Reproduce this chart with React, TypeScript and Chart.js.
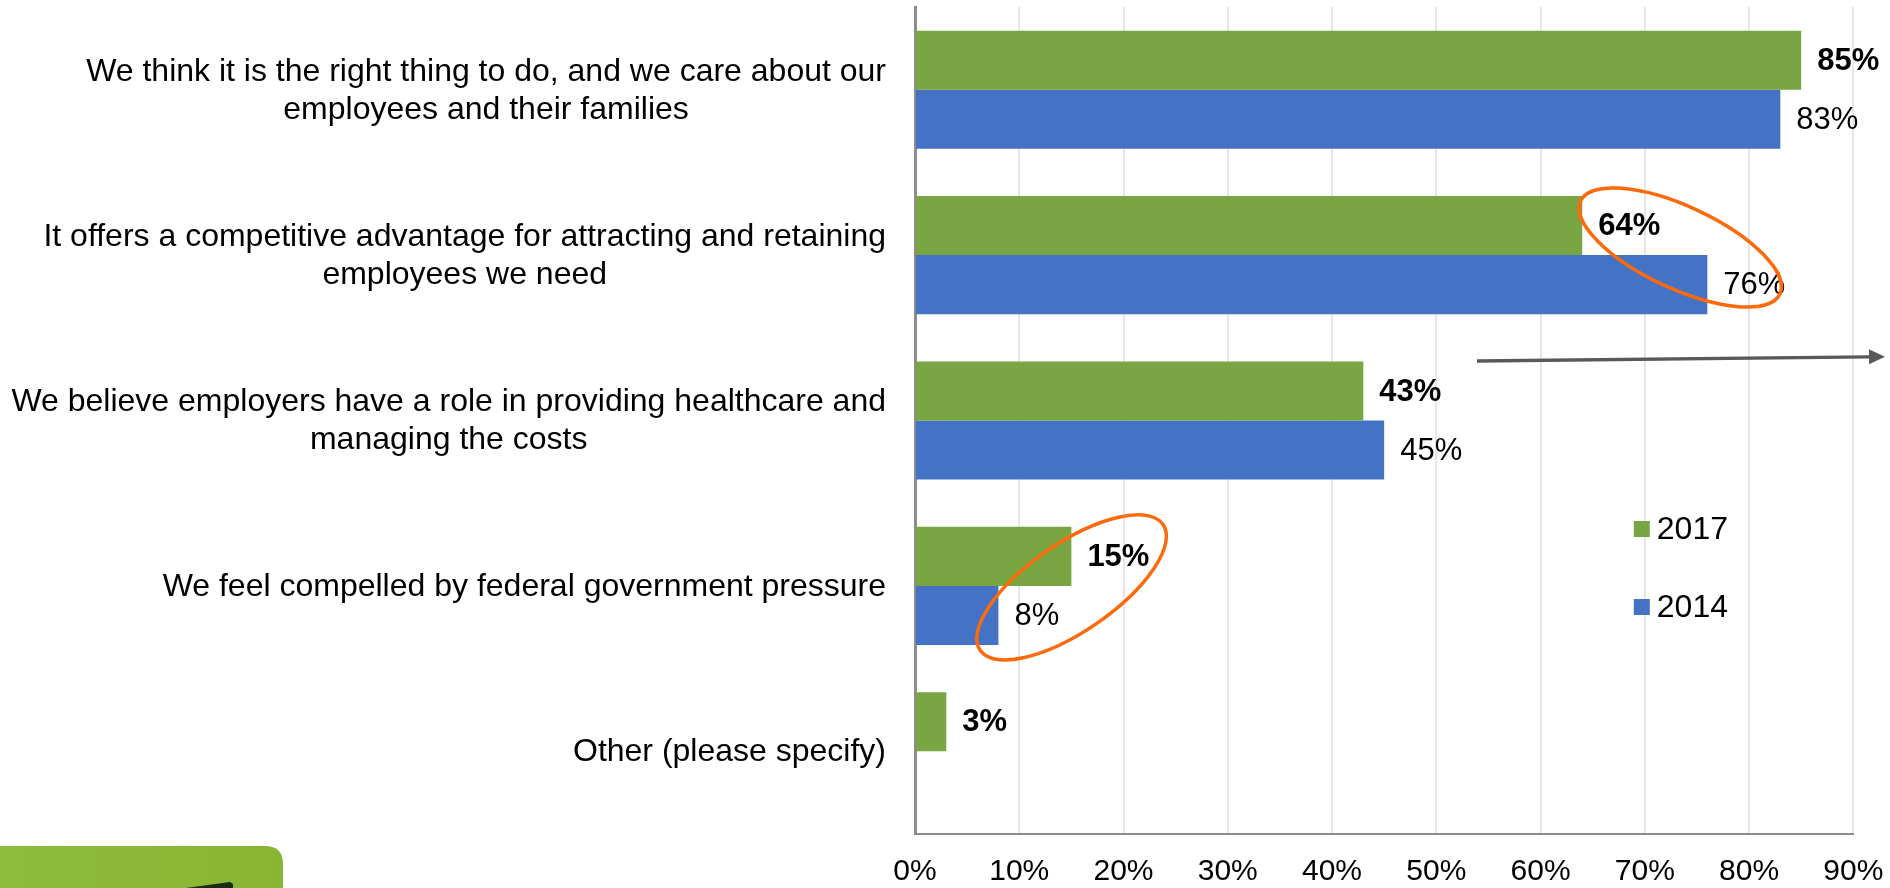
import React, { useEffect, useRef } from 'react';
import { Chart, registerables } from 'chart.js';

Chart.register(...registerables);

// ---- Data ----
const categories: string[][] = [
  ['We think it is the right thing to do, and we care about our', 'employees and their families'],
  ['It offers a competitive advantage for attracting and retaining', 'employees we need'],
  ['We believe employers have a role in providing healthcare and', 'managing the costs'],
  ['We feel compelled by federal government pressure'],
  ['Other (please specify)'],
];
const seriesNames = ['2017', '2014'];
const values2017: (number | null)[] = [85, 64, 43, 15, 3];
const values2014: (number | null)[] = [83, 76, 45, 8, null];
const seriesColors = ['#79a543', '#4472c4'];
const xMin = 0;
const xMax = 90;
const xStep = 10;

const FONT = '"Liberation Sans", Arial, Helvetica, sans-serif';

const categoryLabelPlugin = {
  id: 'categoryLabels',
  afterDraw(chart: any) {
    const { ctx, chartArea } = chart;
    const yScale = chart.scales.y;
    ctx.save();
    ctx.font = `32px ${FONT}`;
    ctx.fillStyle = '#000';
    ctx.textAlign = 'center';
    ctx.textBaseline = 'middle';
    const rightEdge = chartArea.left - 29;
    const lineGap = 38;
    categories.forEach((lines, i) => {
      const yc = yScale.getPixelForValue(i);
      const w = Math.max(...lines.map((l) => ctx.measureText(l).width));
      const cx = rightEdge - w / 2;
      const n = lines.length;
      lines.forEach((line, j) => {
        ctx.fillText(line, cx, yc + (j - (n - 1) / 2) * lineGap + 1);
      });
    });
    ctx.restore();
  },
};

const dataLabelPlugin = {
  id: 'barValueLabels',
  afterDatasetsDraw(chart: any) {
    const { ctx } = chart;
    ctx.save();
    ctx.fillStyle = '#000';
    ctx.textAlign = 'left';
    ctx.textBaseline = 'middle';
    chart.data.datasets.forEach((ds: any, di: number) => {
      const meta = chart.getDatasetMeta(di);
      ctx.font = `${di === 0 ? 'bold ' : ''}31px ${FONT}`;
      meta.data.forEach((bar: any, i: number) => {
        const v = ds.data[i];
        if (v === null || v === undefined) return;
        ctx.fillText(`${v}%`, bar.x + 16, bar.y + 1);
      });
    });
    ctx.restore();
  },
};

const legendPlugin = {
  id: 'insideLegend',
  afterDraw(chart: any) {
    const { ctx, chartArea } = chart;
    ctx.save();
    ctx.font = `32px ${FONT}`;
    ctx.textAlign = 'left';
    ctx.textBaseline = 'middle';
    const x0 = chartArea.right - 219.5;
    const y0 = chartArea.top + 522;
    chart.data.datasets.forEach((ds: any, k: number) => {
      const yc = y0 + k * 78;
      ctx.fillStyle = ds.backgroundColor;
      ctx.fillRect(x0, yc - 8, 16, 16);
      ctx.fillStyle = '#000';
      ctx.fillText(ds.label, x0 + 23, yc + 1);
    });
    ctx.restore();
  },
};

const annotationPlugin = {
  id: 'annotations',
  afterDraw(chart: any) {
    const { ctx } = chart;
    const xs = chart.scales.x;
    const ys = chart.scales.y;
    ctx.save();
    // orange ellipses
    ctx.strokeStyle = '#fd6a0c';
    ctx.lineWidth = 3.5;
    ctx.beginPath();
    ctx.ellipse(xs.getPixelForValue(73.4), ys.getPixelForValue(1) - 7.6, 110, 41, (25 * Math.PI) / 180, 0, Math.PI * 2);
    ctx.stroke();
    ctx.beginPath();
    ctx.ellipse(xs.getPixelForValue(15.02), ys.getPixelForValue(3) + 1.5, 111, 44, (-34.5 * Math.PI) / 180, 0, Math.PI * 2);
    ctx.stroke();

    // gray arrow
    const ax1 = 1477;
    const ay1 = 361;
    const ax2 = 1885;
    const ay2 = 356.7;
    const headLen = 16;
    const ang = Math.atan2(ay2 - ay1, ax2 - ax1);
    ctx.strokeStyle = '#595959';
    ctx.fillStyle = '#595959';
    ctx.lineWidth = 3.3;
    ctx.beginPath();
    ctx.moveTo(ax1, ay1);
    ctx.lineTo(ax2 - headLen * Math.cos(ang), ay2 - headLen * Math.sin(ang));
    ctx.stroke();
    ctx.beginPath();
    ctx.moveTo(ax2, ay2);
    ctx.lineTo(ax2 - headLen * Math.cos(ang) + 7.5 * Math.sin(ang), ay2 - headLen * Math.sin(ang) - 7.5 * Math.cos(ang));
    ctx.lineTo(ax2 - headLen * Math.cos(ang) - 7.5 * Math.sin(ang), ay2 - headLen * Math.sin(ang) + 7.5 * Math.cos(ang));
    ctx.closePath();
    ctx.fill();

    // green logo corner (bottom-left)
    const H = chart.height;
    const g = ctx.createLinearGradient(0, 846, 283, 846);
    g.addColorStop(0, '#8dbb3b');
    g.addColorStop(1, '#89b632');
    ctx.fillStyle = g;
    const lx = -20;
    const ly = 846;
    const lw = 303;
    const lh = H - ly + 30;
    const r = 18;
    ctx.beginPath();
    ctx.moveTo(lx, ly);
    ctx.lineTo(lx + lw - r, ly);
    ctx.quadraticCurveTo(lx + lw, ly, lx + lw, ly + r);
    ctx.lineTo(lx + lw, ly + lh);
    ctx.lineTo(lx, ly + lh);
    ctx.closePath();
    ctx.fill();
    ctx.fillStyle = '#1f2a12';
    ctx.beginPath();
    ctx.moveTo(186, H);
    ctx.lineTo(230, 882);
    ctx.lineTo(233, 884);
    ctx.lineTo(233, H);
    ctx.closePath();
    ctx.fill();
    ctx.restore();
  },
};

export default function App() {
  const canvasRef = useRef<HTMLCanvasElement | null>(null);

  useEffect(() => {
    const canvas = canvasRef.current;
    if (!canvas) return;
    const chart = new Chart(canvas, {
      type: 'bar',
      data: {
        labels: categories.map((c) => c.join(' ')),
        datasets: [
          { label: seriesNames[0], data: values2017, backgroundColor: seriesColors[0] },
          { label: seriesNames[1], data: values2014, backgroundColor: seriesColors[1] },
        ],
      },
      options: {
        indexAxis: 'y',
        responsive: false,
        animation: false,
        devicePixelRatio: 1,
        layout: { padding: { left: 915, right: 36.7, top: 7, bottom: 0 } },
        datasets: { bar: { categoryPercentage: 0.714, barPercentage: 1 } },
        scales: {
          x: {
            type: 'linear',
            min: xMin,
            max: xMax,
            afterFit: (s: any) => {
              s.height = 54;
              s.paddingLeft = 0;
              s.paddingRight = 0;
            },
            ticks: {
              stepSize: xStep,
              callback: (v: any) => `${v}%`,
              font: { family: FONT, size: 30 },
              color: '#000',
              padding: 20,
              maxRotation: 0,
            },
            grid: { color: '#e6e6e6', lineWidth: 2, drawTicks: false },
            border: { display: true, color: '#8c8c8c', width: 2 },
          },
          y: {
            ticks: { display: false },
            grid: { display: false, drawTicks: false },
            border: { display: true, color: '#8c8c8c', width: 3 },
          },
        },
        plugins: {
          legend: { display: false },
          tooltip: { enabled: false },
        },
      } as any,
      plugins: [dataLabelPlugin, categoryLabelPlugin, legendPlugin, annotationPlugin],
    });
    return () => chart.destroy();
  }, []);

  return (
    <div style={{ position: 'absolute', left: 0, top: 0, width: 1890, height: 888, background: '#fff' }}>
      <canvas ref={canvasRef} width={1890} height={888} style={{ display: 'block', width: 1890, height: 888 }} />
    </div>
  );
}
